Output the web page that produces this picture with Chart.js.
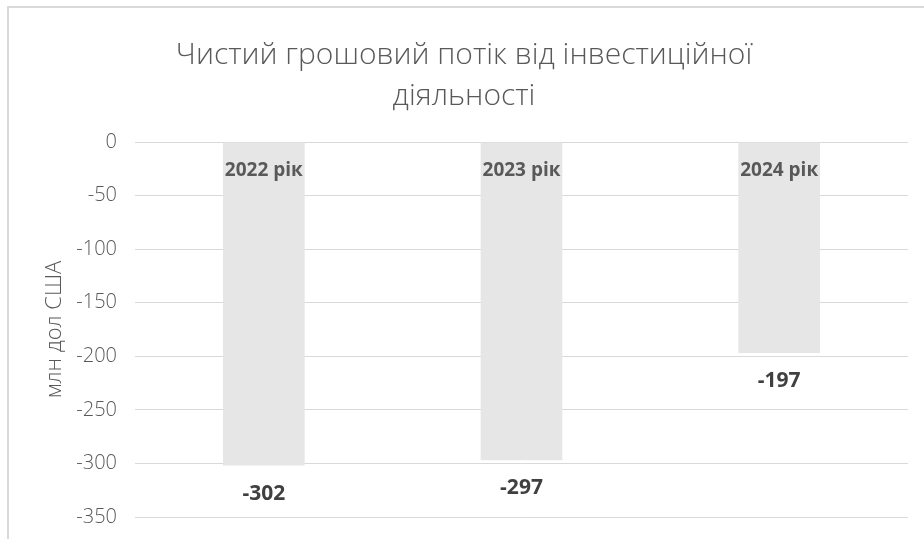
<!DOCTYPE html>
<html>
<head>
<meta charset="utf-8">
<script src="https://cdn.jsdelivr.net/npm/chart.js@4.4.1/dist/chart.umd.min.js"></script>
<style>
    html, body { margin: 0; padding: 0; background: #ffffff; overflow: hidden; }
    .frame {
        position: absolute;
        left: 7px;
        top: 6px;
        width: 1000px;
        height: 600px;
        border-top: 2px solid #d9d9d9;
        border-left: 2px solid #d9d9d9;
    }
    .wrap { position: absolute; left: 0; top: 0; width: 924px; height: 539px; }
</style>
</head>
<body>
<div class="frame"></div>
<div class="wrap"><canvas id="cashChart" width="924" height="539"></canvas></div>
<script>
// Chart data
const categories = ['2022 рік', '2023 рік', '2024 рік'];
const cashFlow = [-302, -297, -197];
const yTicks = [0, -50, -100, -150, -200, -250, -300, -350];

// Category names inside the bars and values under them
const barLabels = {
    id: 'barLabels',
    afterDatasetsDraw(chart) {
        const ctx = chart.ctx;
        const yScale = chart.scales.y;
        const zeroY = yScale.getPixelForValue(0);
        const meta = chart.getDatasetMeta(0);
        ctx.save();
        ctx.textAlign = 'center';
        ctx.textBaseline = 'middle';
        meta.data.forEach((bar, i) => {
            ctx.font = 'bold 19px "Open Sans"';
            ctx.fillStyle = '#595959';
            ctx.fillText(categories[i], bar.x, zeroY + 29);
            ctx.font = 'bold 21px "Open Sans"';
            ctx.fillStyle = '#404040';
            ctx.fillText(String(cashFlow[i]), bar.x, bar.y + 28);
        });
        ctx.restore();
    }
};

const ctx = document.getElementById('cashChart').getContext('2d');
const cashChart = new Chart(ctx, {
    type: 'bar',
    data: {
        labels: categories,
        datasets: [{
            data: cashFlow,
            backgroundColor: '#e6e6e6',
            borderWidth: 0,
            categoryPercentage: 1.0,
            barPercentage: 0.317
        }]
    },
    options: {
        responsive: false,
        animation: false,
        events: [],
        layout: {
            padding: { left: 20, right: 16, top: 0, bottom: 22 }
        },
        plugins: {
            legend: { display: false },
            tooltip: { enabled: false },
            title: {
                display: true,
                text: ['Чистий грошовий потік від інвестиційної', 'діяльності'],
                color: '#595959',
                font: { family: 'Open Sans', size: 30, weight: '300', lineHeight: '41px' },
                padding: { top: 35, bottom: 25 }
            }
        },
        scales: {
            x: {
                display: false
            },
            y: {
                min: -350,
                max: 0,
                afterBuildTicks: function(scale) {
                    scale.ticks = yTicks.map(v => ({ value: v }));
                },
                afterFit: function(scale) {
                    scale.width = 115;
                },
                grid: {
                    color: '#d9d9d9',
                    lineWidth: 1,
                    drawTicks: true,
                    tickLength: 15,
                    tickColor: 'rgba(0,0,0,0)'
                },
                border: { display: false },
                ticks: {
                    color: '#595959',
                    padding: 3,
                    font: { family: 'Open Sans', size: 20, weight: '300' }
                },
                title: {
                    display: true,
                    text: 'млн дол США',
                    color: '#595959',
                    font: { family: 'Open Sans', size: 22, weight: '300' },
                    padding: { top: 22, bottom: 0 }
                }
            }
        }
    },
    plugins: [barLabels]
});
</script>
</body>
</html>
